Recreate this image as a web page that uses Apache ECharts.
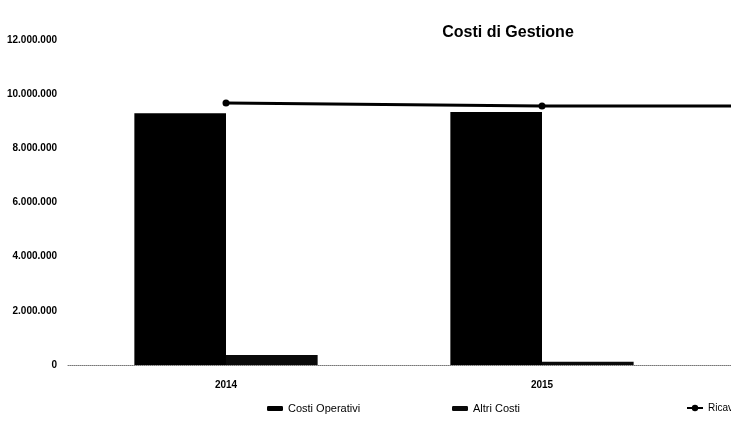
<!DOCTYPE html>
<html>
<head>
<meta charset="utf-8">
<script src="https://cdn.jsdelivr.net/npm/echarts@6/dist/echarts.min.js"></script>
<style>
  html, body { margin: 0; padding: 0; background: #fff; overflow: hidden; }
  /* il grafico originale e' piu' largo ed e' tagliato a destra */
  #frame { width: 731px; height: 422px; overflow: hidden; }
  #content { width: 1016px; height: 422px; }
</style>
</head>
<body>
<div id="frame"><div id="content"></div></div>
<script>
// dati
var anni = ['2014', '2015', '2016'];
var costiOperativi = [9300000, 9340000, null];
var altriCosti = [370000, 120000, null];
var ricavi = [9670000, 9560000, 9560000];
var yTicks = [0, 2000000, 4000000, 6000000, 8000000, 10000000, 12000000];

var font = '"Liberation Sans Narrow", "Liberation Sans", Arial, sans-serif';

function fmt(v) {
    return String(v).replace(/\B(?=(\d{3})+(?!\d))/g, '.');
}

function legenda(nome, x, h, fs) {
    return {
        data: [nome],
        left: x,
        top: 403,
        padding: 0,
        itemWidth: 16,
        itemHeight: h,
        textStyle: { fontFamily: font, fontSize: fs, color: '#000' }
    };
}

var option = {
    backgroundColor: '#fff',
    animation: false,
    title: {
        text: 'Costi di Gestione',
        left: 'center',
        top: 20,
        textStyle: {
            fontFamily: '"Liberation Sans", Arial, sans-serif',
            fontSize: 16,
            fontWeight: 'bold',
            color: '#000'
        }
    },
    grid: { left: 68, right: 0, top: 40, bottom: 57 },
    legend: [
        legenda('Costi Operativi', 267, 5, 11),
        legenda('Altri Costi', 452, 5, 11),
        legenda('Ricavi', 686, 8, 10)
    ],
    xAxis: {
        type: 'category',
        data: anni,
        axisLine: { show: true, lineStyle: { color: '#777', width: 1, type: 'dotted' } },
        axisTick: { show: false },
        axisLabel: {
            margin: 15,
            fontFamily: font,
            fontSize: 10,
            fontWeight: 'bold',
            color: '#000'
        }
    },
    yAxis: {
        type: 'value',
        min: yTicks[0],
        max: yTicks[yTicks.length - 1],
        interval: 2000000,
        axisLine: { show: false },
        axisTick: { show: false },
        splitLine: { show: false },
        axisLabel: {
            margin: 11,
            fontFamily: font,
            fontSize: 10,
            fontWeight: 'bold',
            color: '#000',
            formatter: fmt
        }
    },
    series: [{
        name: 'Costi Operativi',
        type: 'bar',
        data: costiOperativi,
        barGap: '0%',
        barCategoryGap: '42%',
        itemStyle: { color: '#000' }
    }, {
        name: 'Altri Costi',
        type: 'bar',
        data: altriCosti,
        itemStyle: { color: '#0a0a0a' }
    }, {
        name: 'Ricavi',
        type: 'line',
        data: ricavi,
        symbol: 'circle',
        symbolSize: 7,
        lineStyle: { color: '#000', width: 3 },
        itemStyle: { color: '#000' }
    }]
};

var myChart = echarts.init(document.getElementById('content'));
myChart.setOption(option);
</script>
</body>
</html>
